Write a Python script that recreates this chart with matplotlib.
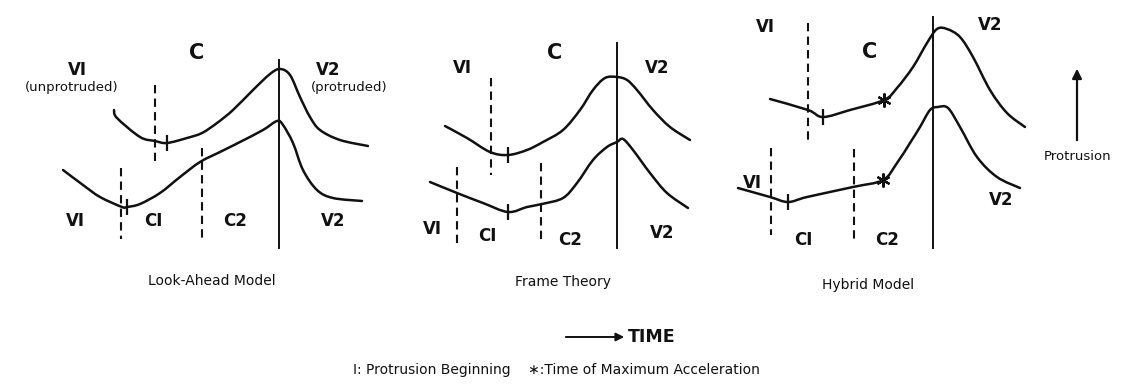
"""
Protrusion schematics: look-ahead vs frame theory vs hybrid model.
"""

import numpy as np
import matplotlib.pyplot as plt
from matplotlib.path import Path
from matplotlib.patches import PathPatch

INK = "#111"

# ── curve data (time, protrusion), pixel units ────────────────────────────────
# Look-Ahead Model
la_up_t = [114, 117, 140, 155, 167, 187, 202, 217, 233, 253, 270, 280, 290, 300, 310, 320, 340, 368]
la_up_y = [110, 118, 137, 141, 143, 138, 133, 123, 110, 90, 74, 69, 75, 97, 117, 130, 140, 146]
la_lo_t = [63, 83, 100, 122, 127, 140, 160, 180, 200, 220, 240, 263, 277, 283, 293, 303, 317, 333, 362]
la_lo_y = [170, 185, 197, 207, 207, 204, 193, 177, 162, 152, 142, 130, 121, 125, 143, 170, 190, 198, 201]
la_begin = [(167, 143), (127, 207)]
la_dashed = [(155, 85, 165), (121, 168, 239), (202, 148, 239)]
la_solid = (279, 60, 248)

# Frame Theory
ft_up_t = [445, 467, 490, 508, 527, 543, 563, 580, 593, 605, 617, 627, 637, 653, 670, 690]
ft_up_y = [126, 138, 152, 155, 150, 142, 130, 110, 90, 78, 77, 80, 90, 110, 127, 140]
ft_lo_t = [430, 457, 483, 508, 527, 542, 563, 577, 593, 607, 617, 623, 633, 650, 667, 688]
ft_lo_y = [182, 193, 203, 212, 207, 204, 198, 183, 160, 147, 142, 139, 150, 173, 193, 208]
ft_begin = [(508, 155), (508, 212)]
ft_dashed = [(491, 78, 175), (457, 167, 248), (541, 163, 242)]
ft_solid = (617, 43, 248)

# Hybrid Model
hy_up_t = [770, 808, 823, 850, 884, 897, 913, 927, 937, 947, 960, 973, 990, 1007, 1025]
hy_up_y = [99, 110, 117, 110, 100, 88, 67, 43, 29, 29, 37, 57, 90, 113, 127]
hy_lo_t = [738, 770, 788, 807, 853, 883, 897, 910, 920, 930, 938, 948, 960, 977, 997, 1020]
hy_lo_y = [188, 197, 202, 197, 187, 180, 163, 143, 127, 110, 107, 108, 127, 157, 177, 188]
hy_begin = [(823, 117), (788, 202)]
hy_maxacc = [(884, 100), (883, 180)]
hy_dashed = [(808, 23, 142), (771, 148, 235), (854, 149, 240)]
hy_solid = (933, 17, 248)

# labels: (x, y, text, size, bold)
labels = [
    (197, 53, "C", 15, True), (77, 70, "VI", 12, True), (72, 87, "(unprotruded)", 9.5, False),
    (328, 70, "V2", 12, True), (349, 87, "(protruded)", 9.5, False),
    (75, 221, "VI", 12, True), (153, 221, "CI", 12, True), (235, 221, "C2", 12, True),
    (333, 221, "V2", 12, True),
    (555, 53, "C", 15, True), (462, 68, "VI", 12, True), (657, 68, "V2", 12, True),
    (432, 229, "VI", 12, True), (487, 236, "CI", 12, True), (570, 240, "C2", 12, True),
    (662, 233, "V2", 12, True),
    (765, 27, "VI", 12, True), (870, 52, "C", 15, True), (990, 25, "V2", 12, True),
    (752, 183, "VI", 12, True), (803, 240, "CI", 12, True), (887, 240, "C2", 12, True),
    (1001, 200, "V2", 12, True),
]
titles = [(212, 281, "Look-Ahead Model"), (563, 282, "Frame Theory"), (868, 285, "Hybrid Model")]


def smooth_path(t, y):
    # Catmull-Rom through the read points, drawn as cubic Bezier segments
    p = np.column_stack([t, y]).astype(float)
    pts = np.vstack([p[0], p, p[-1]])
    verts, codes = [p[0]], [Path.MOVETO]
    for i in range(1, len(pts) - 2):
        p0, p1, p2, p3 = pts[i - 1], pts[i], pts[i + 1], pts[i + 2]
        verts += [p1 + (p2 - p0) / 6, p2 - (p3 - p1) / 6, p2]
        codes += [Path.CURVE4] * 3
    return Path(verts, codes)


fig = plt.figure(figsize=(11.21, 3.85), dpi=100, facecolor="white")
ax = fig.add_axes([0, 0, 1, 1])
ax.set_xlim(0, 1121)
ax.set_ylim(385, 0)
ax.axis("off")

curves = [(la_up_t, la_up_y), (la_lo_t, la_lo_y), (ft_up_t, ft_up_y),
          (ft_lo_t, ft_lo_y), (hy_up_t, hy_up_y), (hy_lo_t, hy_lo_y)]
for t, y in curves:
    ax.add_patch(PathPatch(smooth_path(t, y), fill=False, edgecolor=INK, lw=1.8,
                           capstyle="round", joinstyle="round"))

for x, y0, y1 in la_dashed + ft_dashed + hy_dashed:
    ax.plot([x, x], [y0, y1], color=INK, lw=1.5, dashes=(4, 2.5))

for x, y0, y1 in [la_solid, ft_solid, hy_solid]:
    ax.plot([x, x], [y0, y1], color=INK, lw=1.4)

for x, y in la_begin + ft_begin + hy_begin:
    ax.plot(x, y, marker="|", ms=11, mew=1.6, color=INK)
for x, y in hy_maxacc:
    ax.plot(x, y, marker=(6, 2, 0), ms=10, mew=1.6, color=INK)

for x, y, s, fs, b in labels:
    ax.text(x, y, s, fontsize=fs, ha="center", va="center", color=INK,
            fontweight="bold" if b else "normal")
for x, y, s in titles:
    ax.text(x, y, s, fontsize=10, ha="center", va="center", color=INK)

# protrusion arrow
ax.annotate("", xy=(1077, 66), xytext=(1077, 143),
            arrowprops=dict(arrowstyle="-|>", color=INK, lw=1.6, mutation_scale=14))
ax.text(1078, 156, "Protrusion", fontsize=9.5, ha="center", va="center", color=INK)

# time arrow
ax.annotate("", xy=(627, 337), xytext=(563, 337),
            arrowprops=dict(arrowstyle="-|>", color=INK, lw=1.4, mutation_scale=12))
ax.text(628, 337, "TIME", fontsize=12.5, ha="left", va="center", color=INK, fontweight="bold")

ax.text(353, 370, "I: Protrusion Beginning    \u2217:Time of Maximum Acceleration",
        fontsize=10, ha="left", va="center", color=INK)

fig.savefig("out.png", dpi=100, facecolor="white")
